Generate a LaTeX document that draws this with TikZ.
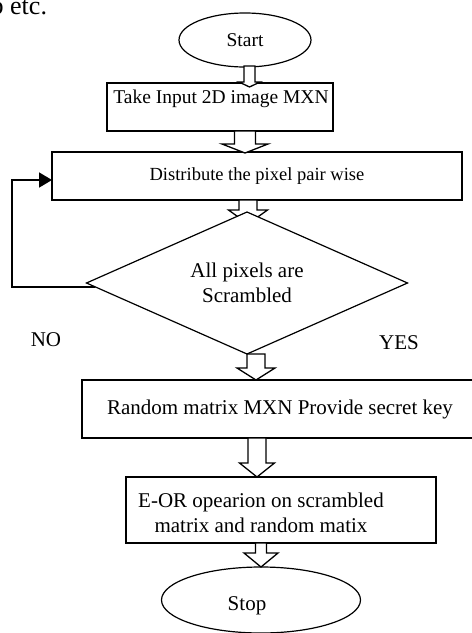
\documentclass[tikz,border=0pt]{standalone}
\usepackage{fontspec}
\setmainfont{Liberation Serif}
\usetikzlibrary{shapes.geometric,arrows.meta,calc}

\tikzset{
  every node/.style={inner sep=0pt, outer sep=0pt},
  terminal/.style={ellipse, draw, line width=1.2pt, fill=white},
  procbox/.style={rectangle, draw, line width=1.3pt, fill=white},
  decision/.style={diamond, draw, line width=1.2pt, fill=white, aspect=2.26, align=center},
  blockarrow/.style={draw, line width=1.3pt, fill=white, line join=miter},
  loopline/.style={draw, line width=1.8pt, -{Triangle[length=13pt,width=15pt]}},
  txtL/.style={font=\fontsize{21}{25}\selectfont},
  txtM/.style={font=\fontsize{19.5}{23}\selectfont},
  txtS/.style={font=\fontsize{18.5}{22}\selectfont},
}

% hollow block arrow: #1 start of shaft, #2 tip, #3 half shaft width,
% #4 half head width, #5 head length
\newcommand{\blockarrow}[5]{%
  \draw[blockarrow] let \p1=(#1), \p2=(#2) in
    (\x2-#3,\y1) -- (\x2-#3,\y2+#5) -- (\x2-#4,\y2+#5) -- (\x2,\y2)
    -- (\x2+#4,\y2+#5) -- (\x2+#3,\y2+#5) -- (\x2+#3,\y1) -- cycle;}

\begin{document}
\begin{tikzpicture}[x=1pt, y=-1pt]
\useasboundingbox (0,0) rectangle (472,633);

% tail of the running text above the chart
\node[anchor=base east, font=\fontsize{26}{30}\selectfont] (frag) at (47,14) {b etc.};

% shapes
\node[terminal, txtM, minimum width=132, minimum height=54] (start) at (245,40) {Start};
\node[procbox, minimum width=226, minimum height=48] (b1) at (220,107) {};
\node[txtM, anchor=base] (b1text) at (221,103) {Take Input 2D image MXN};
\node[procbox, txtS, minimum width=410, minimum height=48] (b2) at (257,176) {Distribute the pixel pair wise};

% arrow into the decision sits under the diamond
\coordinate (a3s) at ($(b2.south)+(-9,0)$);
\coordinate (a3t) at ($(a3s |- 0,212)+(0,12)$);
\blockarrow{a3s}{a3t}{9pt}{19.5pt}{14pt}

\node[decision, txtL, minimum width=321, minimum height=142] (dia) at (247,283) {All pixels are\\Scrambled};
\node[procbox, txtL, minimum width=396, minimum height=58] (b3) at (280,409) {Random matrix MXN Provide secret key};
\node[procbox, minimum width=310, minimum height=66] (b4) at (281,510) {};
\node[txtL, align=center, anchor=base] (b4text) at (261,532) {E-OR opearion on scrambled\\matrix and random matix};
\node[terminal, minimum width=199, minimum height=66] (stop) at (261,600) {};
\node[txtL, anchor=base] (stoptext) at (247,610) {Stop};

% branch labels
\node[txtL] (no) at (46,340) {NO};
\node[txtL] (yes) at (399,343) {YES};

% block arrows along the main flow
\coordinate (a1s) at ($(start.south)+(4.5,-1)$);
\coordinate (a1t) at ($(a1s |- b1.north)+(0,4)$);
\blockarrow{a1s}{a1t}{5.5pt}{10.5pt}{5pt}

\coordinate (a2s) at ($(b1.south)+(25,0)$);
\coordinate (a2t) at ($(a2s |- b2.north)+(0,1)$);
\blockarrow{a2s}{a2t}{10.5pt}{23pt}{9pt}

\coordinate (a4s) at ($(dia.south)+(9,0)$);
\coordinate (a4t) at (a4s |- b3.north);
\blockarrow{a4s}{a4t}{9pt}{19pt}{12pt}

\coordinate (a5s) at ($(b3.south)+(-23,0)$);
\coordinate (a5t) at (a5s |- b4.north);
\blockarrow{a5s}{a5t}{9pt}{17.5pt}{14pt}

\coordinate (a6s) at ($(b4.south)+(-20,0)$);
\coordinate (a6t) at (a6s |- stop.north);
\blockarrow{a6s}{a6t}{5.5pt}{17pt}{14pt}

% NO branch: back to the pixel distribution step
\coordinate (loopstart) at ($(dia.west)!0.056!(dia.south)$);
\coordinate (looptop) at (12,180);
\draw[loopline] (loopstart) -| (looptop) -- (looptop -| b2.west);
\end{tikzpicture}
\end{document}
